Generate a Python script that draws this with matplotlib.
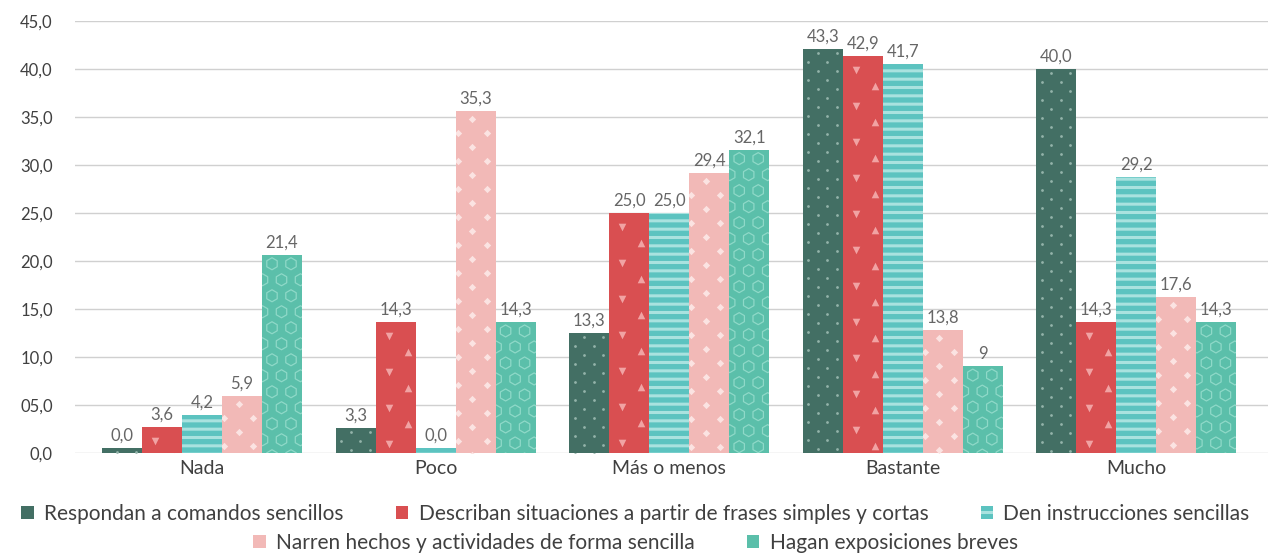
import numpy as np
import matplotlib
matplotlib.use('Agg')
from matplotlib import pyplot as plt
from matplotlib.patches import Patch

plt.rcParams['font.family'] = ['Lato', 'DejaVu Sans']
plt.rcParams['hatch.linewidth'] = 2.2

categories = ['Nada', 'Poco', 'Más o menos', 'Bastante', 'Mucho']
series = ['Respondan a comandos sencillos',
          'Describan situaciones a partir de frases simples y cortas',
          'Den instrucciones sencillas',
          'Narren hechos y actividades de forma sencilla',
          'Hagan exposiciones breves']

# bar heights as drawn in the picture
h_respondan = [0.55, 2.6, 12.5, 42.1, 40.0]
h_describan = [2.75, 13.65, 25.0, 41.4, 13.65]
h_den = [3.95, 0.5, 25.0, 40.5, 28.75]
h_narren = [5.95, 35.6, 29.2, 12.8, 16.25]
h_hagan = [20.65, 13.65, 31.6, 9.05, 13.65]

# value labels as printed
l_respondan = ['0,0', '3,3', '13,3', '43,3', '40,0']
l_describan = ['3,6', '14,3', '25,0', '42,9', '14,3']
l_den = ['4,2', '0,0', '25,0', '41,7', '29,2']
l_narren = ['5,9', '35,3', '29,4', '13,8', '17,6']
l_hagan = ['21,4', '14,3', '32,1', '9', '14,3']

yticks = [0, 5, 10, 15, 20, 25, 30, 35, 40, 45]
ytick_labels = ['0,0', '05,0', '10,0', '15,0', '20,0', '25,0', '30,0', '35,0', '40,0', '45,0']

heights = [h_respondan, h_describan, h_den, h_narren, h_hagan]
labels = [l_respondan, l_describan, l_den, l_narren, l_hagan]
colors = ['#436f64', '#d94f51', '#5cc3c0', '#f2b9b7', '#5bbfaa']
hatch_cols = ['#436f64', '#d94f51', '#a9e2df', '#f2b9b7', '#5bbfaa']
hatches = [None, None, '--', None, None]

W, H = 1271, 555
ax_l, ax_r, ax_b, ax_t = 75, 1268, 453, 21
fig = plt.figure(figsize=(W / 100., H / 100.), dpi=100)
ax = fig.add_axes([ax_l / W, 1 - ax_b / H, (ax_r - ax_l) / W, (ax_b - ax_t) / H])

x = np.arange(len(categories))
grp = 233.6  # px per category
bw = 40 / grp
xmin = -(202 - ax_l) / grp
xmax = (ax_r - 202) / grp
# data units per pixel
xpx = 1.0 / grp
ypx = 45.0 / (ax_b - ax_t)


def fill_markers(rect, marker, color, s, rows, period, lw=0, face=True):
  # rows: list of (list of x offsets px, y offset px from bar top)
  x0 = rect.get_x()
  h = rect.get_height()
  xs, ys = [], []
  base = 0.0
  while base * ypx < h + period * ypx:
    for xo, yo in rows:
      for xx in xo:
        xs.append(x0 + xx * xpx)
        ys.append(h - (base + yo) * ypx)
    base += period
  if face:
    sc = ax.scatter(xs, ys, marker=marker, s=s, c=color, linewidths=0, zorder=3)
  else:
    sc = ax.scatter(xs, ys, marker=marker, s=s, facecolors='none',
                    edgecolors=color, linewidths=lw, zorder=3)
  sc.set_clip_path(rect)


for i in range(len(series)):
  pos = x + (i - 2) * bw
  bars = ax.bar(pos, heights[i], width=bw, color=colors[i],
                edgecolor=hatch_cols[i], linewidth=0, hatch=hatches[i], zorder=2)
  for j, rect in enumerate(bars):
    if i == 0:
      fill_markers(rect, 'o', '#93b3a9', 4, [([15, 34], 4), ([5.5, 24.5], 13)], 18)
    elif i == 1:
      fill_markers(rect, 'v', '#f1a3a3', 30, [([13], 14)], 36)
      fill_markers(rect, '^', '#f1a3a3', 30, [([32], 30)], 36)
    elif i == 3:
      fill_markers(rect, 'D', '#fbe3e2', 14, [([16.5], 8), ([2, 31], 22)], 28)
    elif i == 4:
      fill_markers(rect, 'h', '#8fd9c8', 75, [([10, 29], 9), ([0.5, 19.5, 38.5], 25)],
                   32, lw=0.9, face=False)
    ax.annotate(labels[i][j], (rect.get_x() + bw / 2, rect.get_height()),
                xytext=(0, 3), textcoords='offset points', ha='center', va='bottom',
                fontsize=12, color='#666666', zorder=4)

ax.set_ylim(0, 45)
ax.set_xlim(xmin, xmax)
ax.set_yticks(yticks)
ax.set_yticklabels(ytick_labels, fontsize=12, color='#404040')
ax.set_xticks(x)
ax.set_xticklabels(categories, fontsize=14, color='#404040')
ax.tick_params(axis='both', length=0)
ax.tick_params(axis='y', pad=16)
ax.tick_params(axis='x', pad=5)
ax.grid(axis='y', color='#d0d0d0', linewidth=1, zorder=0)
ax.set_axisbelow(True)
for s in ax.spines.values():
  s.set_visible(False)

handles = []
for i in range(len(series)):
  handles.append(Patch(facecolor=colors[i], edgecolor=hatch_cols[i], linewidth=0,
                       hatch=hatches[i], label=series[i]))

leg1 = fig.legend(handles=handles[:3], loc='center', bbox_to_anchor=(0.5, 1 - 514 / 555.),
                  ncol=3, frameon=False, fontsize=15, handlelength=0.6, handleheight=0.6,
                  handletextpad=0.5, columnspacing=2.5, labelcolor='#404040')
leg2 = fig.legend(handles=handles[3:], loc='center', bbox_to_anchor=(0.5, 1 - 543 / 555.),
                  ncol=2, frameon=False, fontsize=15, handlelength=0.6, handleheight=0.6,
                  handletextpad=0.5, columnspacing=2.5, labelcolor='#404040')

plt.savefig('out.png', dpi=100)
